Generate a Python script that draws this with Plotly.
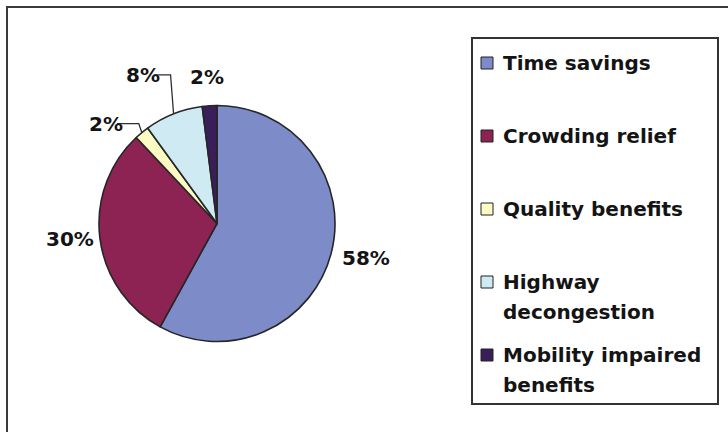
import math
import plotly.graph_objects as go

# --- data -------------------------------------------------------------
categories = ["Time savings", "Crowding relief", "Quality benefits",
              "Highway decongestion", "Mobility impaired benefits"]
legend_lines = [["Time savings"], ["Crowding relief"], ["Quality benefits"],
                ["Highway", "decongestion"], ["Mobility impaired", "benefits"]]
shares = [58, 30, 2, 8, 2]  # percent

# --- styling ----------------------------------------------------------
colors = ["#7d8bc8", "#8c2353", "#fdfbc4", "#cfeaf2", "#3a1e5a"]
edge_color = "#262626"
FONT = dict(family="DejaVu Sans", size=20, color="#141414")

W, H = 728, 432
CX, CY, R = 217, 223.5, 118          # pie centre / radius in pixels

# label placement relative to the slice's outer edge (pixels), leader flag
label_offsets = [(35, 5), (-30, 1), (-36, -9), (-31, -39), (-3, -29)]
use_leader = [False, False, True, True, False]


def px(x):
    return x / W


def py(y):
    return 1 - y / H


fig = go.Figure(go.Pie(
    labels=categories,
    values=shares,
    sort=False,
    direction="clockwise",
    rotation=0,
    textinfo="none",
    showlegend=False,
    marker=dict(colors=colors, line=dict(color=edge_color, width=1.6)),
    domain=dict(x=[px(CX - R), px(CX + R)], y=[py(CY + R), py(CY - R)]),
))

shapes = []
annotations = []

# outer frame (right/bottom edges fall outside the canvas)
shapes.append(dict(type="rect", xref="paper", yref="paper",
                   x0=px(7), x1=px(W + 20), y0=py(7), y1=py(H + 20),
                   line=dict(color="#3a3a3a", width=2)))

# percentage labels around the pie
total = sum(shares)
cum = 0.0
for i, v in enumerate(shares):
    mid = (cum + v / 2) / total * 2 * math.pi
    cum += v
    ex = CX + R * math.sin(mid)
    ey = CY - R * math.cos(mid)
    dx, dy = label_offsets[i]
    lx, ly = ex + dx, ey + dy
    text = f"{round(v / total * 100)}%"
    annotations.append(dict(xref="paper", yref="paper", x=px(lx), y=py(ly),
                            text=f"<b>{text}</b>", showarrow=False,
                            xanchor="center", yanchor="middle", font=FONT))
    if use_leader[i]:
        half_w = len(text) * 9.2 / 2 + 2
        sx = lx + half_w
        path = (f"M {px(sx)} {py(ly)} L {px(ex - 3)} {py(ly)} "
                f"L {px(ex)} {py(ey)}")
        shapes.append(dict(type="path", xref="paper", yref="paper", path=path,
                           line=dict(color="#2e2e2e", width=1.3)))

# legend box
LX0, LX1, LY0, LY1 = 472, 718, 38, 404
shapes.append(dict(type="rect", xref="paper", yref="paper",
                   x0=px(LX0), x1=px(LX1), y0=py(LY0), y1=py(LY1),
                   line=dict(color="#333333", width=2), fillcolor="white"))

ROW0, ROW_STEP, LINE_H = 63, 73, 30
for i, lines in enumerate(legend_lines):
    ry = ROW0 + ROW_STEP * i
    shapes.append(dict(type="rect", xref="paper", yref="paper",
                       x0=px(481), x1=px(493), y0=py(ry - 6), y1=py(ry + 6),
                       fillcolor=colors[i], line=dict(color="#222222", width=1)))
    for j, line in enumerate(lines):
        annotations.append(dict(xref="paper", yref="paper",
                                x=px(501), y=py(ry + j * LINE_H),
                                text=f"<b>{line}</b>", showarrow=False,
                                xanchor="left", yanchor="middle", font=FONT))

fig.update_layout(
    width=W, height=H,
    margin=dict(l=0, r=0, t=0, b=0),
    paper_bgcolor="white",
    plot_bgcolor="white",
    shapes=shapes,
    annotations=annotations,
)

fig.write_html("out.html")
